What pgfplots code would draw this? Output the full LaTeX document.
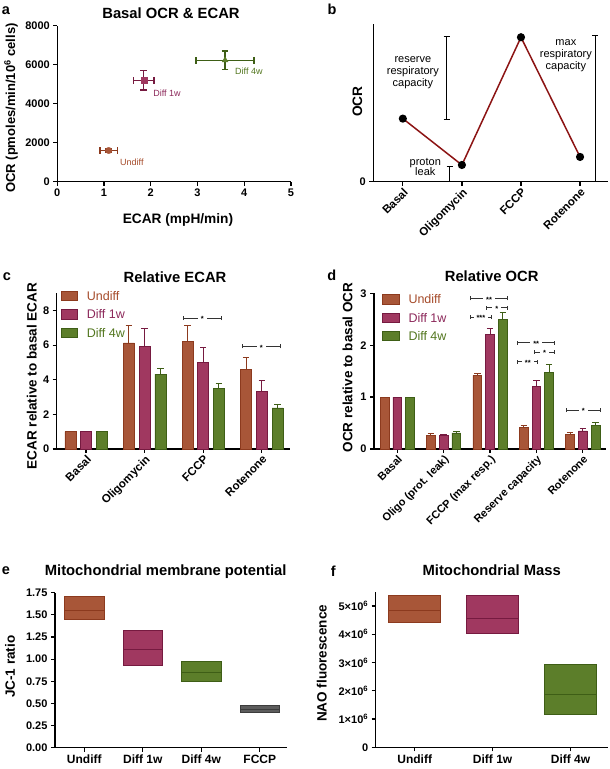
\documentclass[border=0pt]{standalone}
\usepackage{fontspec}
\setmainfont{Liberation Sans}
\usepackage{pgfplots}
\pgfplotsset{compat=1.18}
\usetikzlibrary{calc}
\definecolor{uF}{RGB}{168,86,56}
\definecolor{uD}{RGB}{140,58,30}
\definecolor{wF}{RGB}{160,56,96}
\definecolor{wD}{RGB}{118,26,64}
\definecolor{gF}{RGB}{92,126,42}
\definecolor{gD}{RGB}{62,94,22}
\definecolor{uT}{RGB}{165,75,42}
\definecolor{wT}{RGB}{140,40,90}
\definecolor{gT}{RGB}{82,118,30}
\definecolor{lineR}{RGB}{140,20,20}
\definecolor{fccpF}{RGB}{92,92,92}
\definecolor{fccpD}{RGB}{60,60,60}
\newcommand{\fs}[1]{\fontsize{#1}{#1}\selectfont}
\pgfplotsset{
 gp/.style={scale only axis, axis x line*=bottom, axis y line*=left,
   axis line style={line width=1.3pt}, tick style={line width=1.2pt, black},
   tick align=outside, major tick length=4pt, clip=false,
   ticklabel style={font=\fs{11}\bfseries}, anchor=south west},
 rotlab/.style={x tick label style={rotate=45, anchor=north east, font=\fs{11.5}\bfseries, inner sep=1pt}},
 ebar/.style={error bars/.cd, y dir=plus, y explicit,
   error bar style={#1, line width=0.9pt},
   error mark options={rotate=90, #1, line width=0.9pt, mark size=3.2pt}},
 ebxy/.style={error bars/.cd, x dir=both, y dir=both, x explicit, y explicit,
   error bar style={line width=1.4pt, #1},
   error mark options={rotate=90, line width=1.4pt, #1, mark size=3.4pt}},
}
% vertical bracket (panel b)
\newcommand{\vbr}[3]{%
 \draw[line width=0.8pt] (axis cs:#1,#2) -- (axis cs:#1,#3);
 \draw[line width=0.8pt] ([xshift=-3pt]axis cs:#1,#2) -- ([xshift=3pt]axis cs:#1,#2);
 \draw[line width=0.8pt] ([xshift=-3pt]axis cs:#1,#3) -- ([xshift=3pt]axis cs:#1,#3);}
% significance bracket
\newcommand{\sig}[4]{%
 \draw[line width=0.7pt, black!80] (axis cs:#1,#3) -- (axis cs:#2,#3);
 \draw[line width=0.7pt, black!80] ([yshift=-2pt]axis cs:#1,#3) -- ([yshift=2pt]axis cs:#1,#3);
 \draw[line width=0.7pt, black!80] ([yshift=-2pt]axis cs:#2,#3) -- ([yshift=2pt]axis cs:#2,#3);
 \node[fill=white, inner xsep=3pt, inner ysep=0.3pt, font=\fs{7.5}\bfseries, yshift=-1.2pt] at ($(axis cs:#1,#3)!0.5!(axis cs:#2,#3)$) {#4};}
\begin{document}
\begin{tikzpicture}
\path[use as bounding box] (0pt,0pt) rectangle (610pt,769pt);

% ---------------- a ----------------
\begin{axis}[gp, at={(57.3pt,587.3pt)}, width=233.7pt, height=156pt,
  xmin=0, xmax=5, ymin=0, ymax=8000,
  xtick={0,1,2,3,4,5}, xticklabels={0,1,2,3,4,5},
  ytick={0,2000,4000,6000,8000}, yticklabels={0,2000,4000,6000,8000}]
\addplot[only marks, mark=*, mark size=3.2pt, mark options={fill=uF, draw=uF}, ebxy=uD]
  coordinates {(1.1,1600) +- (0.19,80)};
\addplot[only marks, mark=square*, mark size=3pt, mark options={fill=wF, draw=wF}, ebxy=wD]
  coordinates {(1.85,5200) +- (0.22,500)};
\addplot[only marks, mark=triangle*, mark size=3.4pt, mark options={fill=gF, draw=gF}, ebxy=gD]
  coordinates {(3.59,6230) +- (0.62,480)};
\node[anchor=west, font=\fs{9}, text=uT] at (axis cs:1.27,975) {Undiff};
\node[anchor=west, font=\fs{9}, text=wT] at (axis cs:1.98,4533) {Diff 1w};
\node[anchor=west, font=\fs{9}, text=gT] at (axis cs:3.73,5641) {Diff 4w};
\end{axis}

% ---------------- b ----------------
\begin{axis}[gp, rotlab, at={(373.3pt,587.3pt)}, width=234.5pt, height=157.7pt,
  xmin=-0.5, xmax=3.47, ymin=0, ymax=1,
  xtick={0,1,2,3}, xticklabels={Basal,Oligomycin,FCCP,Rotenone},
  ytick={0}, yticklabels={0}]
\addplot[lineR, line width=1.5pt, mark=*, mark size=3.3pt, mark options={black, fill=black}]
  coordinates {(0,0.40) (1,0.106) (2,0.916) (3,0.157)};
\vbr{0.74}{0.395}{0.924}
\vbr{0.79}{0}{0.10}
\vbr{3.26}{0}{0.93}
\node[align=center, font=\fontsize{11}{11.7}\selectfont] at (axis cs:0.17,0.69) {reserve\\respiratory\\capacity};
\node[align=center, font=\fontsize{11}{10.7}\selectfont] at (axis cs:0.38,0.093) {proton\\leak};
\node[align=center, font=\fontsize{11}{12}\selectfont] at (axis cs:2.76,0.80) {max\\respiratory\\capacity};
\end{axis}

% ---------------- c ----------------
\begin{axis}[gp, rotlab, at={(56.7pt,320pt)}, width=233.3pt, height=155.7pt,
  xmin=-0.5, xmax=3.48, ymin=0, ymax=9,
  ytick={0,2,4,6,8}, yticklabels={0,2,4,6,8},
  xtick={0,1,2,3}, xticklabels={Basal,Oligomycin,FCCP,Rotenone},
  ybar, bar width=11pt]
\addplot[fill=uF, draw=uD, line width=0.6pt, bar shift=-15.7pt, ebar=uD]
  coordinates {(0,1) +- (0,0) (1,6.13) +- (0,1.02) (2,6.22) +- (0,0.91) (3,4.62) +- (0,0.67)};
\addplot[fill=wF, draw=wD, line width=0.6pt, bar shift=0pt, ebar=wD]
  coordinates {(0,1) +- (0,0) (1,5.93) +- (0,1.05) (2,5.0) +- (0,0.89) (3,3.32) +- (0,0.64)};
\addplot[fill=gF, draw=gD, line width=0.6pt, bar shift=15.7pt, ebar=gD]
  coordinates {(0,1) +- (0,0) (1,4.33) +- (0,0.35) (2,3.48) +- (0,0.31) (3,2.38) +- (0,0.21)};
\sig{1.66}{2.31}{7.57}{*}
\sig{2.66}{3.32}{5.93}{*}
\end{axis}

% ---------------- d ----------------
\begin{axis}[gp, rotlab, at={(374pt,320pt)}, width=232pt, height=155.7pt,
  xmin=-0.5, xmax=4.5, ymin=0, ymax=3,
  ytick={0,1,2,3}, yticklabels={0,1,2,3},
  xtick={0,1,2,3,4}, xticklabels={Basal,Oligo (prot. leak),FCCP (max resp.),Reserve capacity,Rotenone},
  x tick label style={font=\fs{11}\bfseries},
  ybar, bar width=8.7pt]
\addplot[fill=uF, draw=uD, line width=0.6pt, bar shift=-12.7pt, ebar=uD]
  coordinates {(0,1) +- (0,0) (1,0.26) +- (0,0.03) (2,1.42) +- (0,0.04) (3,0.41) +- (0,0.04) (4,0.28) +- (0,0.03)};
\addplot[fill=wF, draw=wD, line width=0.6pt, bar shift=0pt, ebar=wD]
  coordinates {(0,1) +- (0,0) (1,0.26) +- (0,0.02) (2,2.21) +- (0,0.11) (3,1.20) +- (0,0.12) (4,0.35) +- (0,0.04)};
\addplot[fill=gF, draw=gD, line width=0.6pt, bar shift=12.7pt, ebar=gD]
  coordinates {(0,1) +- (0,0) (1,0.31) +- (0,0.02) (2,2.49) +- (0,0.14) (3,1.48) +- (0,0.14) (4,0.46) +- (0,0.05)};
\sig{1.58}{2.38}{2.90}{**}
\sig{1.92}{2.37}{2.72}{*}
\sig{1.58}{2.03}{2.54}{***}
\sig{2.60}{3.39}{2.05}{**}
\sig{2.96}{3.39}{1.87}{*}
\sig{2.60}{3.03}{1.68}{**}
\sig{3.64}{4.38}{0.75}{*}
\end{axis}

% ---------------- e ----------------
\begin{axis}[gp, at={(55pt,21.3pt)}, width=232.3pt, height=155pt,
  xmin=-0.5, xmax=3.47, ymin=0, ymax=1.75,
  ytick={0,0.25,0.5,0.75,1,1.25,1.5,1.75},
  yticklabels={0.00,0.25,0.50,0.75,1.00,1.25,1.50,1.75},
  xtick={0,1,2,3}, xticklabels={Undiff,Diff 1w,Diff 4w,FCCP},
  x tick label style={font=\fs{12}\bfseries}]
% floating boxes: min to max, median line
\addplot[fill=uF, draw=uD, line width=0.8pt] coordinates {(-0.3375,1.449) (0.3375,1.449) (0.3375,1.709) (-0.3375,1.709)} -- cycle;
\addplot[draw=uD, line width=0.8pt] coordinates {(-0.3375,1.551) (0.3375,1.551)};
\addplot[fill=wF, draw=wD, line width=0.8pt] coordinates {(0.6625,0.933) (1.3375,0.933) (1.3375,1.325) (0.6625,1.325)} -- cycle;
\addplot[draw=wD, line width=0.8pt] coordinates {(0.6625,1.110) (1.3375,1.110)};
\addplot[fill=gF, draw=gD, line width=0.8pt] coordinates {(1.6625,0.753) (2.3375,0.753) (2.3375,0.975) (1.6625,0.975)} -- cycle;
\addplot[draw=gD, line width=0.8pt] coordinates {(1.6625,0.851) (2.3375,0.851)};
\addplot[fill=fccpF, draw=fccpD, line width=0.8pt] coordinates {(2.6625,0.395) (3.3375,0.395) (3.3375,0.478) (2.6625,0.478)} -- cycle;
\addplot[draw=fccpD, line width=0.8pt] coordinates {(2.6625,0.437) (3.3375,0.437)};
\end{axis}

% ---------------- f (values in units of 10^6) ----------------
\begin{axis}[gp, at={(375.7pt,21.7pt)}, width=232.3pt, height=155.4pt,
  xmin=-0.5, xmax=2.48, ymin=0, ymax=5.5,
  ytick={0,1,2,3,4,5},
  yticklabels={0,1×10\textsuperscript{6},2×10\textsuperscript{6},3×10\textsuperscript{6},4×10\textsuperscript{6},5×10\textsuperscript{6}},
  xtick={0,1,2}, xticklabels={Undiff,Diff 1w,Diff 4w},
  x tick label style={font=\fs{12}\bfseries}]
\addplot[fill=uF, draw=uD, line width=0.8pt] coordinates {(-0.335,4.43) (0.335,4.43) (0.335,5.39) (-0.335,5.39)} -- cycle;
\addplot[draw=uD, line width=0.8pt] coordinates {(-0.335,4.85) (0.335,4.85)};
\addplot[fill=wF, draw=wD, line width=0.8pt] coordinates {(0.665,4.03) (1.335,4.03) (1.335,5.39) (0.665,5.39)} -- cycle;
\addplot[draw=wD, line width=0.8pt] coordinates {(0.665,4.55) (1.335,4.55)};
\addplot[fill=gF, draw=gD, line width=0.8pt] coordinates {(1.665,1.17) (2.335,1.17) (2.335,2.95) (1.665,2.95)} -- cycle;
\addplot[draw=gD, line width=0.8pt] coordinates {(1.665,1.86) (2.335,1.86)};
\end{axis}

% ---------------- legends ----------------
\draw[fill=uF, draw=uD, line width=0.6pt] (61pt,468.3pt) rectangle (77.7pt,477.7pt);
\draw[fill=wF, draw=wD, line width=0.6pt] (61pt,450pt) rectangle (77.7pt,459.4pt);
\draw[fill=gF, draw=gD, line width=0.6pt] (61pt,431.6pt) rectangle (77.7pt,441pt);
\node[anchor=west, inner sep=0pt, font=\fs{12.5}, text=uT] at (86.7pt,473pt) {Undiff};
\node[anchor=west, inner sep=0pt, font=\fs{12.5}, text=wT] at (86.7pt,454.7pt) {Diff 1w};
\node[anchor=west, inner sep=0pt, font=\fs{12.5}, text=gT] at (86.7pt,436.3pt) {Diff 4w};
\draw[fill=uF, draw=uD, line width=0.6pt] (382.3pt,465pt) rectangle (399.3pt,474.4pt);
\draw[fill=wF, draw=wD, line width=0.6pt] (382.3pt,446.6pt) rectangle (399.3pt,456pt);
\draw[fill=gF, draw=gD, line width=0.6pt] (382.3pt,428.3pt) rectangle (399.3pt,437.7pt);
\node[anchor=west, inner sep=0pt, font=\fs{12.5}, text=uT] at (408.3pt,469.7pt) {Undiff};
\node[anchor=west, inner sep=0pt, font=\fs{12.5}, text=wT] at (408.3pt,451.3pt) {Diff 1w};
\node[anchor=west, inner sep=0pt, font=\fs{12.5}, text=gT] at (408.3pt,433pt) {Diff 4w};

% ---------------- titles, labels ----------------
\node[font=\fs{14.8}\bfseries] at (171pt,756pt) {Basal OCR \& ECAR};
\node[font=\fs{14.8}\bfseries] at (175pt,491.3pt) {Relative ECAR};
\node[font=\fs{14.8}\bfseries] at (491.7pt,492.3pt) {Relative OCR};
\node[font=\fs{14.8}\bfseries] at (165.7pt,197.3pt) {Mitochondrial membrane potential};
\node[font=\fs{14.8}\bfseries] at (491.7pt,199pt) {Mitochondrial Mass};
\node[font=\fs{14.5}\bfseries] at (6pt,758pt) {a};
\node[font=\fs{14.5}\bfseries] at (332pt,759.7pt) {b};
\node[font=\fs{14.5}\bfseries] at (7pt,492pt) {c};
\node[font=\fs{14.5}\bfseries] at (331.7pt,494pt) {d};
\node[font=\fs{14.5}\bfseries] at (6pt,198pt) {e};
\node[font=\fs{14.5}\bfseries] at (333.3pt,197.3pt) {f};
\node[font=\fs{13}\bfseries, rotate=90] at (11pt,661pt) {OCR (pmoles/min/10\textsuperscript{6} cells)};
\node[font=\fs{13.7}\bfseries] at (178pt,549pt) {ECAR (mpH/min)};
\node[font=\fs{13.7}\bfseries, rotate=90] at (357.3pt,667.3pt) {OCR};
\node[font=\fs{13.5}\bfseries, rotate=90] at (31.7pt,393pt) {ECAR relative to basal ECAR};
\node[font=\fs{13.5}\bfseries, rotate=90] at (347.5pt,401.5pt) {OCR relative to basal OCR};
\node[font=\fs{13.5}\bfseries, rotate=90] at (10pt,102.3pt) {JC-1 ratio};
\node[font=\fs{13.5}\bfseries, rotate=90] at (321.7pt,105.7pt) {NAO fluorescence};
\end{tikzpicture}
\end{document}
